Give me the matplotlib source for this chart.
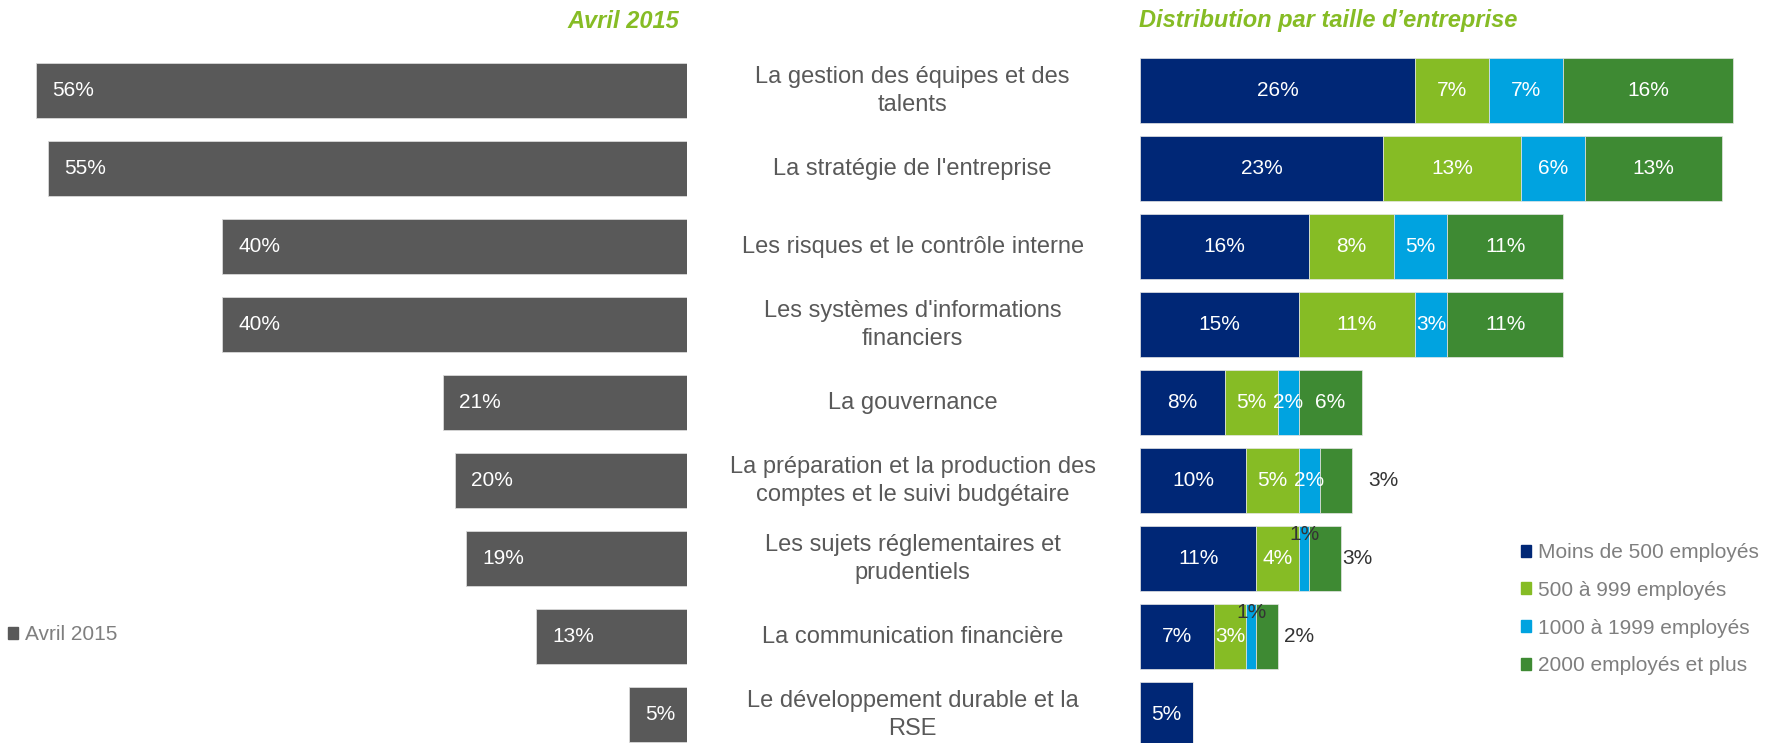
import matplotlib
matplotlib.use("Agg")
import matplotlib.pyplot as plt
from matplotlib.patches import Patch
from matplotlib.transforms import blended_transform_factory

plt.rcParams['font.family'] = ['Liberation Sans', 'DejaVu Sans']

# données
categories = [
    "La gestion des équipes et des\ntalents",
    "La stratégie de l'entreprise",
    "Les risques et le contrôle interne",
    "Les systèmes d'informations\nfinanciers",
    "La gouvernance",
    "La préparation et la production des\ncomptes et le suivi budgétaire",
    "Les sujets réglementaires et\nprudentiels",
    "La communication financière",
    "Le développement durable et la\nRSE",
]
avril_2015 = [56, 55, 40, 40, 21, 20, 19, 13, 5]

moins_500 = [26, 23, 16, 15, 8, 10, 11, 7, 5]
de_500_999 = [7, 13, 8, 11, 5, 5, 4, 3, 0]
de_1000_1999 = [7, 6, 5, 3, 2, 2, 1, 1, 0]
plus_2000 = [16, 13, 11, 11, 6, 3, 3, 2, 0]

series = [moins_500, de_500_999, de_1000_1999, plus_2000]
series_labels = ["Moins de 500 employés", "500 à 999 employés",
                 "1000 à 1999 employés", "2000 employés et plus"]
series_colors = ["#002776", "#86BC25", "#00A3E0", "#3E8A33"]

gray = "#595959"
title_green = "#86BC25"

# mise en page (pixels)
W, H = 1781, 743
fig = plt.figure(figsize=(W / 100, H / 100), dpi=100)

row0, pitch = 90.8, 78.0
y_top = row0 - 0.5 * pitch
y_bot = row0 + 8.5 * pitch


def ax_rect(x0, x1):
    return [x0 / W, (H - y_bot) / H, (x1 - x0) / W, (y_bot - y_top) / H]


ax_l = fig.add_axes(ax_rect(687 - 59 * 11.62, 687))
ax_r = fig.add_axes(ax_rect(1140, 1140 + 60 * 10.585))

y = list(range(len(categories)))

# graphique gauche
ax_l.barh(y, avril_2015, height=0.71, color=gray, edgecolor="#d9d9d9", linewidth=0.6)
ax_l.set_xlim(59, 0)
ax_l.set_ylim(8.5, -0.5)
ax_l.axis("off")
for i, v in enumerate(avril_2015):
    ax_l.annotate(f"{v}%", xy=(v, i), xytext=(16, 0), textcoords="offset pixels",
                  ha="left", va="center", color="white", fontsize=15)

# graphique droite (empilé)
left = [0] * len(categories)
for vals, lab, col in zip(series, series_labels, series_colors):
    ax_r.barh(y, vals, left=left, height=0.83, color=col, label=lab,
              edgecolor="#e6e6e6", linewidth=0.5)
    left = [a + b for a, b in zip(left, vals)]
ax_r.set_xlim(0, 60)
ax_r.set_ylim(8.5, -0.5)
ax_r.axis("off")

# étiquettes des segments
outside_dx = {5: 32, 6: 16, 7: 21}
for i in y:
    start = 0
    total = sum(s[i] for s in series)
    for k, s in enumerate(series):
        v = s[i]
        if v > 0:
            mid = start + v / 2
            if k == 3 and i in outside_dx:
                ax_r.annotate(f"{v}%", xy=(total, i), xytext=(outside_dx[i], 0),
                              textcoords="offset pixels", ha="center", va="center",
                              color="#333333", fontsize=15)
            elif k == 2 and v == 1:
                ax_r.annotate(f"{v}%", xy=(mid, i), xytext=(0, 24),
                              textcoords="offset pixels", ha="center", va="center",
                              color="#333333", fontsize=15)
            else:
                ax_r.text(mid, i, f"{v}%", ha="center", va="center",
                          color="white", fontsize=15)
        start += v

# libellés centraux
tr = blended_transform_factory(fig.transFigure, ax_l.transData)
for i, cat in enumerate(categories):
    ax_l.text(912.6 / W, i, cat, transform=tr, ha="center", va="center",
              multialignment="center", fontsize=17, color=gray, linespacing=1.32,
              clip_on=False)

# titres
fig.text(679.5 / W, 1 - 21 / H, "Avril 2015", ha="right", va="center",
         fontsize=17, fontweight="bold", fontstyle="italic", color=title_green)
fig.text(1139 / W, 1 - 21 / H, "Distribution par taille d\u2019entreprise", ha="left",
         va="center", fontsize=17, fontweight="bold", fontstyle="italic",
         color=title_green)

# légendes
fig.legend([Patch(color=c) for c in series_colors], series_labels,
           loc="upper left", bbox_to_anchor=(1521 / W, 1 - 543 / H),
           frameon=False, fontsize=15, handlelength=0.5, handleheight=0.5,
           handletextpad=0.3, labelspacing=0.9, borderpad=0, borderaxespad=0,
           labelcolor="#7f7f7f")
fig.legend([Patch(color=gray)], ["Avril 2015"],
           loc="upper left", bbox_to_anchor=(8 / W, 1 - 625 / H),
           frameon=False, fontsize=15, handlelength=0.5, handleheight=0.5,
           handletextpad=0.3, borderpad=0, borderaxespad=0,
           labelcolor="#7f7f7f")

fig.savefig("out.png", dpi=100)
